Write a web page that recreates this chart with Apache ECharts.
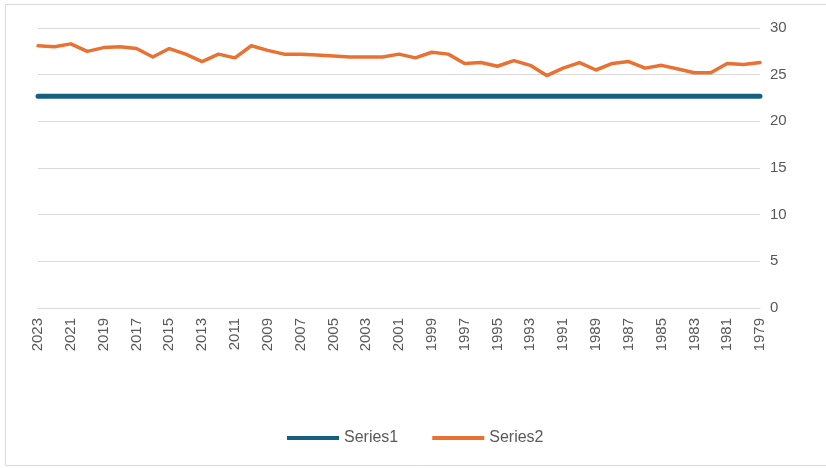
<!DOCTYPE html>
<html>
<head>
<meta charset="utf-8">
<script src="https://cdn.jsdelivr.net/npm/echarts@6/dist/echarts.min.js"></script>
<style>
  html, body { margin: 0; padding: 0; background: #ffffff; }
  #chart { width: 826px; height: 468px; }
</style>
</head>
<body>
<div id="chart"></div>
<script>
// Years, newest first
const years = [
  '2023','2022','2021','2020','2019','2018','2017','2016','2015','2014',
  '2013','2012','2011','2010','2009','2008','2007','2006','2005','2004',
  '2003','2002','2001','2000','1999','1998','1997','1996','1995','1994',
  '1993','1992','1991','1990','1989','1988','1987','1986','1985','1984',
  '1983','1982','1981','1980','1979'
];

// Flat reference level
const series1 = years.map(() => 22.7);

// Yearly values
const series2 = [
  28.1, 28.0, 28.3, 27.5, 27.9, 28.0, 27.8, 26.9, 27.8, 27.2,
  26.4, 27.2, 26.8, 28.1, 27.6, 27.2, 27.2, 27.1, 27.0, 26.9,
  26.9, 26.9, 27.2, 26.8, 27.4, 27.2, 26.2, 26.3, 25.9, 26.5,
  26.0, 24.9, 25.7, 26.3, 25.5, 26.2, 26.4, 25.7, 26.0, 25.6,
  25.2, 25.2, 26.2, 26.1, 26.3
];

const yTicks = { min: 0, max: 30, step: 5 };

const chart = echarts.init(document.getElementById('chart'), null, { renderer: 'canvas' });

chart.setOption({
  backgroundColor: '#ffffff',
  animation: false,
  textStyle: { fontFamily: 'Liberation Sans, Arial, sans-serif' },
  graphic: [{
    type: 'rect',
    shape: { x: 5.5, y: 4.5, width: 830, height: 461 },
    style: { fill: 'none', stroke: '#d9d9d9', lineWidth: 1 },
    silent: true
  }],
  grid: { left: 38, right: 66, top: 28, bottom: 160 },
  legend: {
    bottom: 17,
    left: 282,
    itemWidth: 52,
    itemHeight: 4,
    itemGap: 34,
    icon: 'rect',
    textStyle: { color: '#595959', fontSize: 16 },
    data: ['Series1', 'Series2']
  },
  xAxis: {
    type: 'category',
    data: years,
    boundaryGap: false,
    axisLine: { show: true, lineStyle: { color: '#d9d9d9', width: 1 } },
    axisTick: { show: false },
    axisLabel: {
      interval: 1,
      rotate: 90,
      color: '#595959',
      fontSize: 15,
      margin: 10
    },
    splitLine: { show: false }
  },
  yAxis: {
    type: 'value',
    position: 'right',
    min: yTicks.min,
    max: yTicks.max,
    interval: yTicks.step,
    axisLine: { show: false },
    axisTick: { show: false },
    axisLabel: { color: '#595959', fontSize: 15, margin: 10 },
    splitLine: { lineStyle: { color: '#d9d9d9', width: 1 } }
  },
  series: [
    {
      name: 'Series1',
      type: 'line',
      data: series1,
      symbol: 'none',
      color: '#156082',
      lineStyle: { width: 5, color: '#156082', cap: 'round' }
    },
    {
      name: 'Series2',
      type: 'line',
      data: series2,
      symbol: 'none',
      color: '#E97132',
      lineStyle: { width: 3.5, color: '#E97132', cap: 'round', join: 'round' }
    }
  ]
});
</script>
</body>
</html>
